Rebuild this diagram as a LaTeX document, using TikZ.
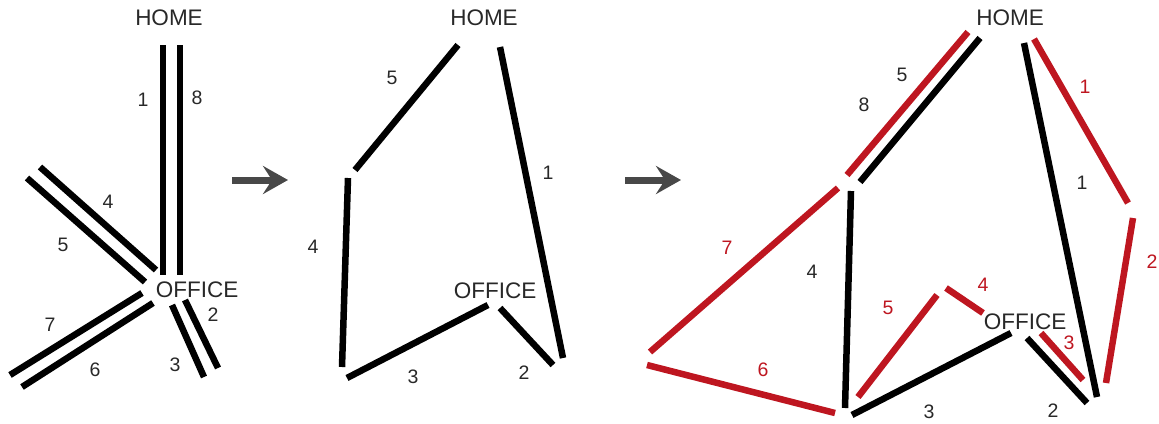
\documentclass[tikz,border=0pt]{standalone}
\usepackage{fontspec}
\setmainfont{Liberation Sans}
\usepackage{xcolor}
\usetikzlibrary{arrows.meta}
\definecolor{roadred}{RGB}{190,22,32}
\definecolor{inkgray}{RGB}{40,40,40}
\definecolor{arrowgray}{RGB}{72,72,72}

\begin{document}
\begin{tikzpicture}[x=1pt,y=-1pt,
    road/.style={line width=6.5pt,draw=black},
    redroad/.style={line width=6.5pt,draw=roadred},
    place/.style={font=\fontsize{22.5}{22.5}\selectfont,text=inkgray,inner sep=1pt},
    num/.style={font=\fontsize{19.5}{19.5}\selectfont,text=inkgray,inner sep=1pt},
    rednum/.style={num,text=roadred},
    goarrow/.style={line width=7pt,draw=arrowgray,-{Stealth[length=25pt,width=28pt,inset=9pt]}}]
        \useasboundingbox (0,0) rectangle (1159,423);
        % left: every road walked twice
        \node[place] (homeA) at (169,18) {HOME};
        \node[place] (officeA) at (197,290) {OFFICE};
        \coordinate (a1s) at (163,45);  \coordinate (a1e) at (163,275);
        \coordinate (a8s) at (180,45);  \coordinate (a8e) at (180,275);
        \coordinate (a4s) at (40,167);  \coordinate (a4e) at (156,270);
        \coordinate (a5s) at (27,178);  \coordinate (a5e) at (145,282);
        \coordinate (a7s) at (10,375);  \coordinate (a7e) at (142,293);
        \coordinate (a6s) at (22,387);  \coordinate (a6e) at (153,303);
        \coordinate (a3s) at (172,305); \coordinate (a3e) at (204,377);
        \coordinate (a2s) at (185,300); \coordinate (a2e) at (218,368);
        \draw[road] (a1s) -- (a1e);
        \draw[road] (a8s) -- (a8e);
        \draw[road] (a4s) -- (a4e);
        \draw[road] (a5s) -- (a5e);
        \draw[road] (a7s) -- (a7e);
        \draw[road] (a6s) -- (a6e);
        \draw[road] (a3s) -- (a3e);
        \draw[road] (a2s) -- (a2e);
        \node[num] (na1) at (143,100) {1};
        \node[num] (na8) at (197,98) {8};
        \node[num] (na4) at (108,202) {4};
        \node[num] (na5) at (63,245) {5};
        \node[num] (na7) at (50,325) {7};
        \node[num] (na6) at (95,370) {6};
        \node[num] (na2) at (213,315) {2};
        \node[num] (na3) at (175,365) {3};
        \coordinate (goAs) at (232,180); \coordinate (goAe) at (288,180);
        \draw[goarrow] (goAs) -- (goAe);
        % middle: one loop
        \node[place] (homeB) at (484,18) {HOME};
        \node[place] (officeB) at (495,291) {OFFICE};
        \coordinate (b5s) at (458,45);  \coordinate (b5e) at (355,170);
        \coordinate (b4s) at (348,178); \coordinate (b4e) at (342,367);
        \coordinate (b3s) at (347,378); \coordinate (b3e) at (488,305);
        \coordinate (b2s) at (500,308); \coordinate (b2e) at (553,365);
        \coordinate (b1s) at (500,47);  \coordinate (b1e) at (563,358);
        \draw[road] (b5s) -- (b5e);
        \draw[road] (b4s) -- (b4e);
        \draw[road] (b3s) -- (b3e);
        \draw[road] (b2s) -- (b2e);
        \draw[road] (b1s) -- (b1e);
        \node[num] (nb5) at (392,78) {5};
        \node[num] (nb4) at (313,247) {4};
        \node[num] (nb3) at (413,377) {3};
        \node[num] (nb2) at (524,373) {2};
        \node[num] (nb1) at (548,173) {1};
        \coordinate (goBs) at (625,180); \coordinate (goBe) at (681,180);
        \draw[goarrow] (goBs) -- (goBe);
        % right: black and red tours
        \node[place] (homeC) at (1010,18) {HOME};
        \coordinate (c5s) at (847,175);  \coordinate (c5e) at (968,32);
        \coordinate (c8s) at (860,182);  \coordinate (c8e) at (980,38);
        \coordinate (c7s) at (838,188);  \coordinate (c7e) at (650,352);
        \coordinate (c4s) at (851,191);  \coordinate (c4e) at (845,408);
        \coordinate (c6s) at (647,365);  \coordinate (c6e) at (835,413);
        \coordinate (r5s) at (858,397);  \coordinate (r5e) at (937,295);
        \coordinate (r4s) at (946,288);  \coordinate (r4e) at (983,313);
        \coordinate (c3s) at (852,415);  \coordinate (c3e) at (1011,333);
        \coordinate (c2s) at (1027,338); \coordinate (c2e) at (1087,403);
        \coordinate (r3s) at (1041,333); \coordinate (r3e) at (1083,380);
        \coordinate (c1s) at (1024,43);  \coordinate (c1e) at (1097,397);
        \coordinate (r1s) at (1034,39);  \coordinate (r1e) at (1128,203);
        \coordinate (r2s) at (1133,218); \coordinate (r2e) at (1106,383);
        \draw[redroad] (c5s) -- (c5e);
        \draw[road] (c8s) -- (c8e);
        \draw[redroad] (c7s) -- (c7e);
        \draw[road] (c4s) -- (c4e);
        \draw[redroad] (c6s) -- (c6e);
        \draw[redroad] (r5s) -- (r5e);
        \draw[redroad] (r4s) -- (r4e);
        \draw[road] (c3s) -- (c3e);
        \draw[road] (c2s) -- (c2e);
        \draw[redroad] (r3s) -- (r3e);
        \draw[road] (c1s) -- (c1e);
        \draw[redroad] (r1s) -- (r1e);
        \draw[redroad] (r2s) -- (r2e);
        \node[place] (officeC) at (1025,322) {OFFICE};
        \node[num] (nc5) at (902,75) {5};
        \node[num] (nc8) at (864,105) {8};
        \node[rednum] (nr7) at (727,248) {7};
        \node[num] (nc4) at (812,272) {4};
        \node[rednum] (nr6) at (763,370) {6};
        \node[rednum] (nr5) at (888,308) {5};
        \node[rednum] (nr4) at (983,285) {4};
        \node[num] (nc3) at (929,412) {3};
        \node[num] (nc2) at (1053,411) {2};
        \node[rednum] (nr3) at (1069,343) {3};
        \node[num] (nc1) at (1082,183) {1};
        \node[rednum] (nr1) at (1085,87) {1};
        \node[rednum] (nr2) at (1152,262) {2};
\end{tikzpicture}
\end{document}
